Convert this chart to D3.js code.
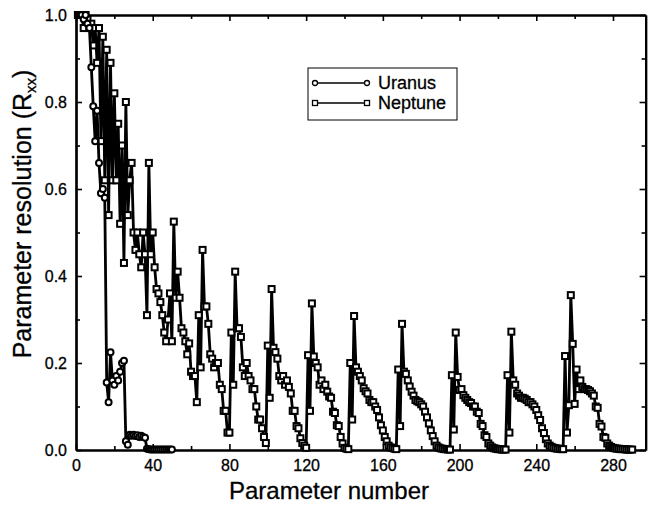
<!DOCTYPE html>
<html>
<head>
<meta charset="utf-8">
<script src="https://cdn.jsdelivr.net/npm/d3@7"></script>
<style>
  body { margin: 0; background: #fff; }
  text { font-family: "Liberation Sans", Arial, sans-serif; fill: #000; }
</style>
</head>
<body>
<svg id="chart" width="648" height="507"></svg>
<script>
// DATA (parameter index starts at 1)
var uranus = [
  1.0, 1.0, 1.0, 0.99, 1.0, 0.98, 0.97, 0.88, 0.79, 0.71,
  0.78, 0.66, 0.59, 0.60, 0.58, 0.155, 0.11, 0.225, 0.16, 0.15,
  0.17, 0.16, 0.18, 0.20, 0.205, 0.02, 0.012, 0.035, 0.033, 0.035,
  0.032, 0.034, 0.03, 0.033, 0.03, 0.028, 0.003, 0.002, 0.001, 0.001,
  0.001, 0.001, 0.001, 0.001, 0.001, 0.001, 0.001, 0.001, 0.001, 0.001
];

var neptune = [
  1.0, 1.0, 1.0, 0.97, 1.0, 0.99, 0.97, 0.98, 0.93, 0.97,
  0.89, 0.97, 0.71, 0.95, 0.62, 0.92, 0.54, 0.89, 0.62, 0.82,
  0.62, 0.75, 0.52, 0.70, 0.43, 0.80, 0.54, 0.62, 0.66, 0.50,
  0.46, 0.50, 0.45, 0.42, 0.50, 0.45, 0.31, 0.66, 0.45, 0.50,
  0.42, 0.37, 0.36, 0.34, 0.31, 0.27, 0.25, 0.30, 0.36, 0.25,
  0.525, 0.35, 0.41, 0.35, 0.28, 0.27, 0.25, 0.22, 0.245, 0.18,
  0.17, 0.17, 0.11, 0.31, 0.19, 0.46, 0.33, 0.33, 0.29, 0.22,
  0.21, 0.19, 0.20, 0.20, 0.15, 0.14, 0.09, 0.09, 0.04, 0.04,
  0.27, 0.15, 0.41, 0.28, 0.28, 0.26, 0.19, 0.17, 0.20, 0.17,
  0.16, 0.14, 0.14, 0.10, 0.07, 0.07, 0.05, 0.03, 0.016, 0.24,
  0.12, 0.37, 0.235, 0.225, 0.21, 0.17, 0.16, 0.17, 0.15, 0.16,
  0.145, 0.13, 0.09, 0.09, 0.055, 0.05, 0.027, 0.016, 0.01, 0.005,
  0.218, 0.09, 0.337, 0.215, 0.20, 0.19, 0.15, 0.16, 0.14, 0.15,
  0.134, 0.123, 0.12, 0.088, 0.085, 0.057, 0.055, 0.03, 0.015, 0.005,
  0.003, 0.002, 0.20, 0.07, 0.308, 0.19, 0.18, 0.17, 0.16, 0.142,
  0.135, 0.13, 0.115, 0.11, 0.11, 0.10, 0.092, 0.075, 0.057, 0.045,
  0.03, 0.02, 0.01, 0.006, 0.005, 0.003, 0.002, 0.185, 0.055, 0.29,
  0.18, 0.175, 0.16, 0.146, 0.134, 0.125, 0.115, 0.112, 0.11, 0.105,
  0.10, 0.088, 0.075, 0.061, 0.045, 0.032, 0.02, 0.01, 0.006, 0.004,
  0.003, 0.002, 0.002, 0.001, 0.001, 0.172, 0.047, 0.27, 0.168, 0.138,
  0.14, 0.126, 0.12, 0.115, 0.11, 0.108, 0.10, 0.10, 0.088, 0.085,
  0.06, 0.055, 0.034, 0.03, 0.015, 0.01, 0.006, 0.004, 0.003, 0.002,
  0.002, 0.001, 0.001, 0.001, 0.172, 0.04, 0.272, 0.16, 0.15, 0.13,
  0.125, 0.12, 0.12, 0.118, 0.115, 0.11, 0.11, 0.105, 0.10, 0.092,
  0.08, 0.069, 0.05, 0.039, 0.025, 0.015, 0.01, 0.007, 0.005, 0.004,
  0.003, 0.003, 0.002, 0.002, 0.216, 0.04, 0.103, 0.356, 0.244, 0.106,
  0.185, 0.14, 0.16, 0.145, 0.14, 0.14, 0.138, 0.135, 0.13, 0.125,
  0.10, 0.097, 0.06, 0.054, 0.03, 0.028, 0.015, 0.01, 0.007, 0.005,
  0.004, 0.003, 0.003, 0.002, 0.002, 0.002, 0.001, 0.001, 0.001, 0.001
];

var xTicks = [0, 40, 80, 120, 160, 200, 240, 280];
var xMinor = [20, 60, 100, 140, 180, 220, 260];
var yTicks = [0, 0.2, 0.4, 0.6, 0.8, 1.0];
var yMinor = [0.1, 0.3, 0.5, 0.7, 0.9];
var seriesNames = ["Uranus", "Neptune"];

var svg = d3.select("#chart");

var xScale = d3.scaleLinear().domain([0, 297]).range([76, 645.6]);
var yScale = d3.scaleLinear().domain([0, 1]).range([450, 15]);

// axes: left/bottom with labels, top/right ticks only, all ticks inward
function styleAxis(g) {
  g.selectAll("path.domain").attr("stroke", "#000").attr("stroke-width", 2.2);
  g.selectAll(".tick line").attr("stroke", "#000").attr("stroke-width", 1.6);
  g.selectAll(".tick text").style("font-size", "16px").attr("fill", "#000")
    .attr("stroke", "#000").attr("stroke-width", 0.3);
}

svg.append("g")
  .attr("transform", "translate(0,450)")
  .call(d3.axisBottom(xScale).tickValues(xTicks).tickSize(-6).tickSizeOuter(0).tickPadding(10).tickFormat(d3.format("d")))
  .call(styleAxis);
svg.append("g")
  .attr("transform", "translate(0,450)")
  .call(d3.axisBottom(xScale).tickValues(xMinor).tickSize(-4).tickSizeOuter(0).tickFormat(""))
  .call(styleAxis);

svg.append("g")
  .attr("transform", "translate(0,15)")
  .call(d3.axisTop(xScale).tickValues(xTicks).tickSize(-6).tickSizeOuter(0).tickFormat(""))
  .call(styleAxis);
svg.append("g")
  .attr("transform", "translate(0,15)")
  .call(d3.axisTop(xScale).tickValues(xMinor).tickSize(-4).tickSizeOuter(0).tickFormat(""))
  .call(styleAxis);

svg.append("g")
  .attr("transform", "translate(76,0)")
  .call(d3.axisLeft(yScale).tickValues(yTicks).tickSize(-6).tickSizeOuter(0).tickPadding(9).tickFormat(d3.format(".1f")))
  .call(styleAxis);
svg.append("g")
  .attr("transform", "translate(76,0)")
  .call(d3.axisLeft(yScale).tickValues(yMinor).tickSize(-4).tickSizeOuter(0).tickFormat(""))
  .call(styleAxis);

svg.append("g")
  .attr("transform", "translate(645.6,0)")
  .call(d3.axisRight(yScale).tickValues(yTicks).tickSize(-6).tickSizeOuter(0).tickFormat(""))
  .call(styleAxis);
svg.append("g")
  .attr("transform", "translate(645.6,0)")
  .call(d3.axisRight(yScale).tickValues(yMinor).tickSize(-4).tickSizeOuter(0).tickFormat(""))
  .call(styleAxis);

// series
var line = d3.line()
  .x(function(d) { return xScale(d.p); })
  .y(function(d) { return yScale(d.v); });

var nepData = neptune.map(function(v, i) { return {p: i + 1, v: v}; });
var uraData = uranus.map(function(v, i) { return {p: i + 1, v: v}; });

var sq = 6;

function drawSquare(g, cx, cy) {
  g.append("rect")
    .attr("x", cx - 2.5).attr("y", cy - 2.5)
    .attr("width", 5).attr("height", 5)
    .attr("fill", "#fff").attr("stroke", "#000").attr("stroke-width", 1.3);
}
function drawCircle(g, cx, cy) {
  g.append("circle")
    .attr("cx", cx).attr("cy", cy).attr("r", 2.5)
    .attr("fill", "#fff").attr("stroke", "#000").attr("stroke-width", 1.3);
}

svg.append("path")
  .datum(nepData)
  .attr("fill", "none").attr("stroke", "#000").attr("stroke-width", 2.8)
  .attr("stroke-linejoin", "round")
  .attr("d", line);

svg.selectAll(".nep")
  .data(nepData)
  .enter().append("rect")
  .attr("class", "nep")
  .attr("x", function(d) { return xScale(d.p) - sq / 2; })
  .attr("y", function(d) { return yScale(d.v) - sq / 2; })
  .attr("width", sq).attr("height", sq)
  .attr("fill", "#fff").attr("stroke", "#000").attr("stroke-width", 2);

svg.append("path")
  .datum(uraData)
  .attr("fill", "none").attr("stroke", "#000").attr("stroke-width", 2.8)
  .attr("stroke-linejoin", "round")
  .attr("d", line);

svg.selectAll(".ura")
  .data(uraData)
  .enter().append("circle")
  .attr("class", "ura")
  .attr("cx", function(d) { return xScale(d.p); })
  .attr("cy", function(d) { return yScale(d.v); })
  .attr("r", 3)
  .attr("fill", "#fff").attr("stroke", "#000").attr("stroke-width", 2);

// legend
var legend = svg.append("g");
legend.append("rect")
  .attr("x", 308).attr("y", 68).attr("width", 149).attr("height", 52)
  .attr("fill", "#fff").attr("stroke", "#000").attr("stroke-width", 1);

seriesNames.forEach(function(name, i) {
  var ly = 83 + i * 20;
  legend.append("line")
    .attr("x1", 315).attr("x2", 367).attr("y1", ly).attr("y2", ly)
    .attr("stroke", "#000").attr("stroke-width", 1.5);
  if (i === 0) { drawCircle(legend, 315, ly); drawCircle(legend, 367, ly); }
  else { drawSquare(legend, 315, ly); drawSquare(legend, 367, ly); }
  legend.append("text")
    .attr("x", 378).attr("y", ly + 6)
    .style("font-size", "18px")
    .attr("stroke", "#000").attr("stroke-width", 0.3)
    .text(name);
});

// axis titles
svg.append("text")
  .attr("x", 329).attr("y", 499)
  .attr("text-anchor", "middle")
  .style("font-size", "24px")
  .attr("stroke", "#000").attr("stroke-width", 0.3)
  .text("Parameter number");

var yt = svg.append("text")
  .attr("transform", "translate(31,214) rotate(-90)")
  .attr("text-anchor", "middle")
  .style("font-size", "25px")
  .attr("stroke", "#000").attr("stroke-width", 0.3);
yt.append("tspan").text("Parameter resolution (R");
yt.append("tspan").attr("dy", 5).style("font-size", "15px").text("xx");
yt.append("tspan").attr("dy", -5).text(")");
</script>
</body>
</html>
